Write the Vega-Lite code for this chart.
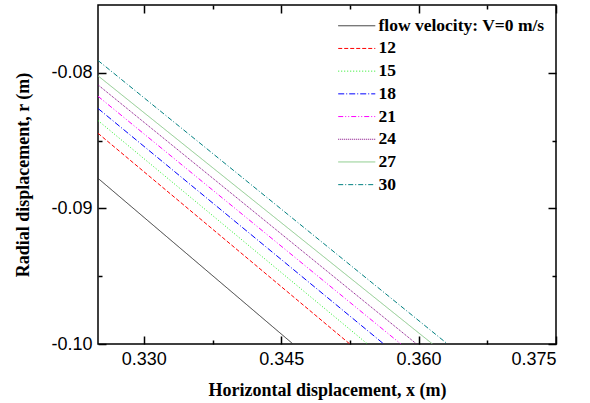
{
  "$schema": "https://vega.github.io/schema/vega-lite/v6.json",
  "width": 458,
  "height": 339,
  "autosize": "none",
  "padding": {"left": 98, "top": 5, "right": 34, "bottom": 59},
  "background": "white",
  "config": {
    "view": {"stroke": "black", "strokeWidth": 1.5},
    "axis": {
      "labelFont": "Liberation Sans",
      "labelFontSize": 18,
      "labelColor": "black",
      "titleFont": "Liberation Serif",
      "titleFontSize": 18,
      "titleFontWeight": "bold",
      "titleColor": "black",
      "grid": false,
      "domain": false,
      "tickColor": "black",
      "tickWidth": 1.5
    }
  },
  "data": {
    "values": [
      {"V": 0, "x": 0.325, "r": -0.08778},
      {"V": 0, "x": 0.34629, "r": -0.1},
      {"V": 12, "x": 0.325, "r": -0.08446},
      {"V": 12, "x": 0.35249, "r": -0.1},
      {"V": 15, "x": 0.325, "r": -0.08352},
      {"V": 15, "x": 0.35442, "r": -0.1},
      {"V": 18, "x": 0.325, "r": -0.08263},
      {"V": 18, "x": 0.3562, "r": -0.1},
      {"V": 21, "x": 0.325, "r": -0.08173},
      {"V": 21, "x": 0.35806, "r": -0.1},
      {"V": 24, "x": 0.325, "r": -0.08089},
      {"V": 24, "x": 0.35978, "r": -0.1},
      {"V": 27, "x": 0.325, "r": -0.08022},
      {"V": 27, "x": 0.36152, "r": -0.1},
      {"V": 30, "x": 0.325, "r": -0.07909},
      {"V": 30, "x": 0.36316, "r": -0.1}
    ]
  },
  "resolve": {"axis": {"x": "independent", "y": "independent"}},
  "layer": [
    {
      "mark": {"type": "line", "strokeWidth": 1, "clip": true},
      "encoding": {
        "x": {
          "field": "x", "type": "quantitative",
          "scale": {"domain": [0.325, 0.375], "nice": false, "zero": false},
          "axis": {"values": [0.33, 0.345, 0.36, 0.375], "format": ".3f", "orient": "bottom", "tickSize": -8, "labelPadding": 14, "title": "Horizontal displacement, x (m)", "titlePadding": 13}
        },
        "y": {
          "field": "r", "type": "quantitative",
          "scale": {"domain": [-0.1, -0.075], "nice": false, "zero": false},
          "axis": {"values": [-0.1, -0.09, -0.08], "format": ".2f", "labelExpr": "replace(datum.label, '\u2212', '-')", "orient": "left", "tickSize": -8, "labelPadding": 14, "title": "Radial displacement, r (m)", "titlePadding": 18}
        },
        "color": {
          "field": "V", "type": "ordinal",
          "scale": {"domain": [0, 12, 15, 18, 21, 24, 27, 30], "range": ["#333333", "#ff0000", "#22ee22", "#0000ff", "#ff00ff", "#800080", "#88c888", "#008080"]},
          "legend": {
            "title": null,
            "orient": "none",
            "legendX": 250,
            "legendY": 12,
            "symbolType": "M-5,0H5",
            "symbolSize": 55,
            "symbolStrokeWidth": 1,
            "labelFont": "Liberation Serif",
            "labelFontSize": 17.5,
            "labelFontWeight": "bold",
            "labelColor": "black",
            "labelOffset": 13,
            "labelLimit": 400,
            "rowPadding": 3.7,
            "labelExpr": "datum.value == 0 ? 'flow velocity: V=0 m/s' : datum.label"
          }
        },
        "strokeDash": {
          "field": "V", "type": "ordinal",
          "scale": {"domain": [0, 12, 15, 18, 21, 24, 27, 30], "range": [[1, 0], [4, 2], [1, 2], [6, 2, 1, 2], [5, 2, 1, 2, 1, 2], [1, 1], [1, 0], [5, 2, 1, 2]]},
          "legend": null
        }
      }
    },
    {
      "mark": {"type": "line", "opacity": 0},
      "encoding": {
        "x": {"field": "x", "type": "quantitative", "axis": {"values": [0.33, 0.345, 0.36, 0.375], "orient": "top", "tickSize": -8, "labels": false, "title": null}},
        "y": {"field": "r", "type": "quantitative", "axis": {"values": [-0.1, -0.09, -0.08], "orient": "right", "tickSize": -8, "labels": false, "title": null}},
        "detail": {"field": "V", "type": "ordinal"}
      }
    },
    {
      "mark": {"type": "line", "opacity": 0},
      "encoding": {
        "x": {"field": "x", "type": "quantitative", "axis": {"values": [0.3375, 0.3525, 0.3675], "orient": "bottom", "tickSize": -4, "labels": false, "title": null}},
        "y": {"field": "r", "type": "quantitative", "axis": {"values": [-0.095, -0.085], "orient": "left", "tickSize": -4, "labels": false, "title": null}},
        "detail": {"field": "V", "type": "ordinal"}
      }
    },
    {
      "mark": {"type": "line", "opacity": 0},
      "encoding": {
        "x": {"field": "x", "type": "quantitative", "axis": {"values": [0.3375, 0.3525, 0.3675], "orient": "top", "tickSize": -4, "labels": false, "title": null}},
        "y": {"field": "r", "type": "quantitative", "axis": {"values": [-0.095, -0.085], "orient": "right", "tickSize": -4, "labels": false, "title": null}},
        "detail": {"field": "V", "type": "ordinal"}
      }
    }
  ]
}
